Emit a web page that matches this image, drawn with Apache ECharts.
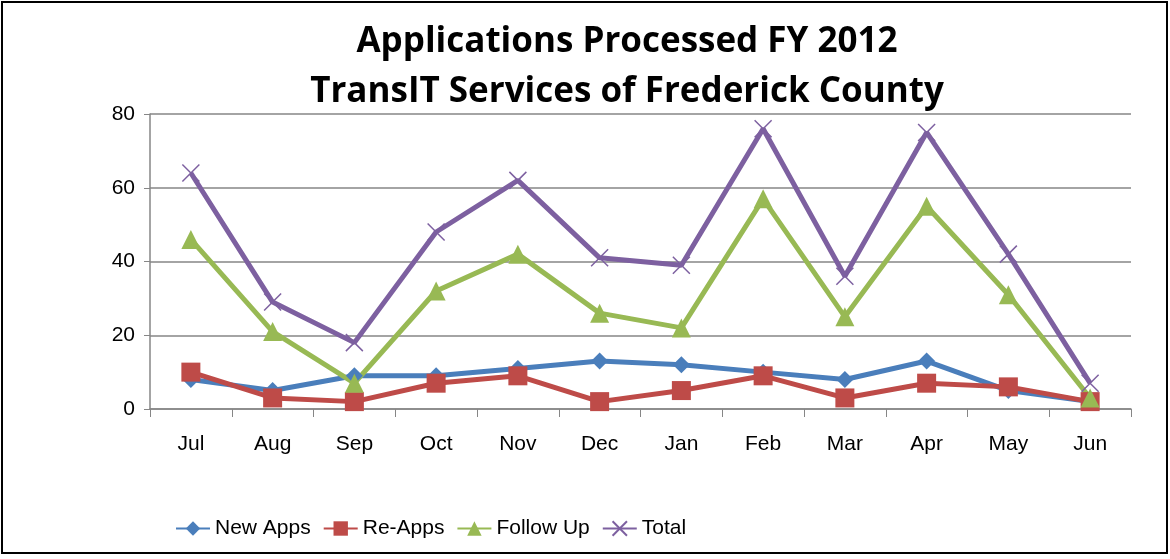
<!DOCTYPE html>
<html>
<head>
<meta charset="utf-8">
<script src="https://cdn.jsdelivr.net/npm/echarts@6/dist/echarts.min.js"></script>
<style>
  html, body { margin: 0; padding: 0; background: #fff; }
  #chart { width: 1170px; height: 559px; }
</style>
</head>
<body>
<div id="chart"></div>
<script>
const months = ['Jul', 'Aug', 'Sep', 'Oct', 'Nov', 'Dec', 'Jan', 'Feb', 'Mar', 'Apr', 'May', 'Jun'];
const newApps = [8, 5, 9, 9, 11, 13, 12, 10, 8, 13, 5, 2];
const reApps = [10, 3, 2, 7, 9, 2, 5, 9, 3, 7, 6, 2];
const followUp = [46, 21, 7, 32, 42, 26, 22, 57, 25, 55, 31, 3];
const total = [64, 29, 18, 48, 62, 41, 39, 76, 36, 75, 42, 7];

const font = 'Liberation Sans, Arial, sans-serif';

function line(name, data, color, symbol, size, extra) {
    return Object.assign({
        name: name,
        type: 'line',
        data: data,
        symbol: symbol,
        symbolSize: size,
        lineStyle: { width: 5, color: color },
        itemStyle: { color: color },
        z: 3
    }, extra || {});
}

const chart = echarts.init(document.getElementById('chart'));

chart.setOption({
    animation: false,
    title: {
        text: 'Applications Processed FY 2012\nTransIT Services of Frederick County',
        left: 622,
        textAlign: 'center',
        top: 12,
        textStyle: {
            fontFamily: 'Open Sans, sans-serif',
            fontWeight: 'bold',
            fontSize: 35,
            lineHeight: 50,
            color: '#000'
        }
    },
    legend: {
        bottom: 15,
        left: 170,
        itemGap: 12,
        itemWidth: 34,
        itemHeight: 18,
        textStyle: { fontFamily: font, fontSize: 21, color: '#000' },
        data: ['New Apps', 'Re-Apps', 'Follow Up', 'Total']
    },
    grid: { left: 150, right: 39, top: 114, bottom: 150 },
    xAxis: {
        type: 'category',
        data: months,
        boundaryGap: true,
        axisLine: { lineStyle: { color: '#868686', width: 1.5 } },
        axisTick: { show: true, length: 8, lineStyle: { color: '#868686' } },
        axisLabel: { fontFamily: font, fontSize: 21, color: '#000', margin: 25 }
    },
    yAxis: {
        type: 'value',
        min: 0,
        max: 80,
        interval: 20,
        axisLine: { show: true, lineStyle: { color: '#868686', width: 1.5 } },
        axisTick: { show: true, length: 6, lineStyle: { color: '#868686' } },
        axisLabel: { fontFamily: font, fontSize: 21, color: '#000', margin: 15 },
        splitLine: { lineStyle: { color: '#868686', width: 1.5 } }
    },
    graphic: [{
        type: 'rect',
        shape: { x: 2, y: 2, width: 1165, height: 551 },
        style: { fill: 'none', stroke: '#000', lineWidth: 2 },
        silent: true
    }],
    series: [
        line('New Apps', newApps, '#4a7ebb', 'diamond', 17),
        line('Re-Apps', reApps, '#be4b48', 'rect', 19),
        line('Follow Up', followUp, '#98b954', 'triangle', 19),
        line('Total', total, '#7d60a0', 'path://M0,0L10,10M10,0L0,10', 17, {
            itemStyle: { color: 'none', borderColor: '#7d60a0', borderWidth: 1.5 }
        })
    ]
});
</script>
</body>
</html>
